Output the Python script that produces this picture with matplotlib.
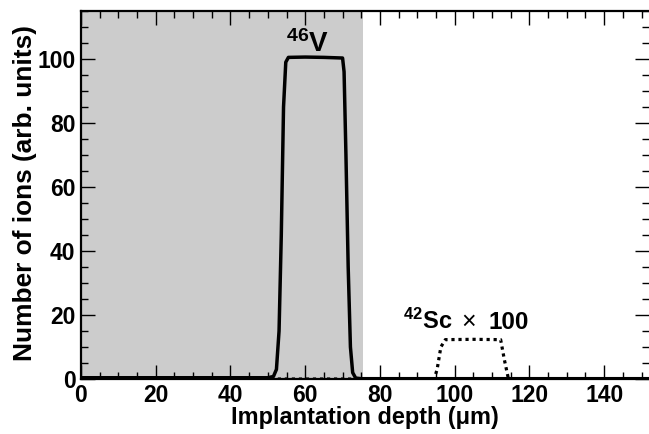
import matplotlib
matplotlib.use("Agg")
import matplotlib.pyplot as plt
from matplotlib.ticker import MultipleLocator
from matplotlib import font_manager

plt.rcParams['font.family'] = ['Liberation Sans', 'DejaVu Sans']
plt.rcParams['font.weight'] = 'bold'
plt.rcParams['mathtext.fontset'] = 'custom'
plt.rcParams['mathtext.rm'] = 'Liberation Sans:bold'
plt.rcParams['mathtext.it'] = 'Liberation Sans:bold'
plt.rcParams['mathtext.bf'] = 'Liberation Sans:bold'

_names = {f.name for f in font_manager.fontManager.ttflist}
label_font = 'Liberation Sans Narrow' if 'Liberation Sans Narrow' in _names else 'Liberation Sans'

# 46V implantation profile
v_depth = [0, 50, 51.5, 52.3, 53.0, 53.6, 54.2, 54.8, 55.5, 60, 65, 70.0, 70.4, 70.9, 71.5, 72.1, 72.7, 73.5, 75, 152]
v_ions = [0.4, 0.4, 0.8, 3, 15, 45, 85, 99, 100.5, 100.6, 100.5, 100.3, 96, 70, 35, 10, 2, 0.3, 0.1, 0.1]

# 42Sc implantation profile (x100)
sc_depth = [0, 94.5, 95.3, 96.3, 97.5, 105, 112.3, 113.3, 114.3, 115, 152]
sc_ions = [0, 0, 3, 10, 12.3, 12.4, 12.3, 6, 0.5, 0, 0]

shade_range = [0, 75.5]

fig = plt.figure(figsize=(6.49, 4.34), dpi=100)
ax = fig.add_axes([0.1248, 0.1267, 0.8752, 0.848])

ax.axvspan(shade_range[0], shade_range[1], color='#cccccc', zorder=0, lw=0)
ax.plot(sc_depth, sc_ions, color='black', lw=2.3, ls=(0, (1, 1.2)), zorder=2)
ax.plot(v_depth, v_ions, color='black', lw=2.5, zorder=3)

ax.set_xlim(0, 152)
ax.set_ylim(0, 115)
ax.xaxis.set_major_locator(MultipleLocator(20))
ax.xaxis.set_minor_locator(MultipleLocator(5))
ax.yaxis.set_major_locator(MultipleLocator(20))
ax.yaxis.set_minor_locator(MultipleLocator(5))
ax.tick_params(which='both', direction='in', top=True, right=True, width=1)
ax.tick_params(which='major', length=10, labelsize=16.5)
ax.tick_params(axis='x', which='major', pad=3.8)
ax.tick_params(axis='y', which='major', pad=4)
ax.tick_params(which='minor', length=5)
for lab in ax.get_xticklabels() + ax.get_yticklabels():
    lab.set_fontweight('bold')
for name, s in ax.spines.items():
    s.set_linewidth(1.6)
ax.spines['right'].set_visible(False)

ax.set_xlabel('Implantation depth (\u03bcm)', fontsize=17, fontweight='bold', family=label_font)
ax.set_ylabel('Number of ions (arb. units)', fontsize=18.5, fontweight='bold', family=label_font)
ax.xaxis.label.set_va('top')
ax.xaxis.set_label_coords(0.5, -0.0745, transform=ax.transAxes)
ax.yaxis.set_label_coords(-0.0775, 0.504, transform=ax.transAxes)

# size the axis titles to the reference extents
fig.canvas.draw()
r = fig.canvas.get_renderer()
wx = ax.xaxis.label.get_window_extent(r).width
ax.xaxis.label.set_fontsize(17 * 268.0 / wx)
hy = ax.yaxis.label.get_window_extent(r).height
ax.yaxis.label.set_fontsize(18.5 * 337.0 / hy)

ax.text(60.7, 102.3, '$^{46}$V', fontsize=20, fontweight='bold', ha='center', va='baseline')
ax.text(99.4, 15.6, '$^{42}$Sc', fontsize=17, fontweight='bold', ha='right', va='baseline')
ax.text(103.7, 15.6, '\u00d7', fontsize=18, fontweight='normal', ha='center', va='baseline')
ax.text(109.0, 15.6, '100', fontsize=17.5, fontweight='bold', ha='left', va='baseline')

fig.savefig('out.png', dpi=100)
